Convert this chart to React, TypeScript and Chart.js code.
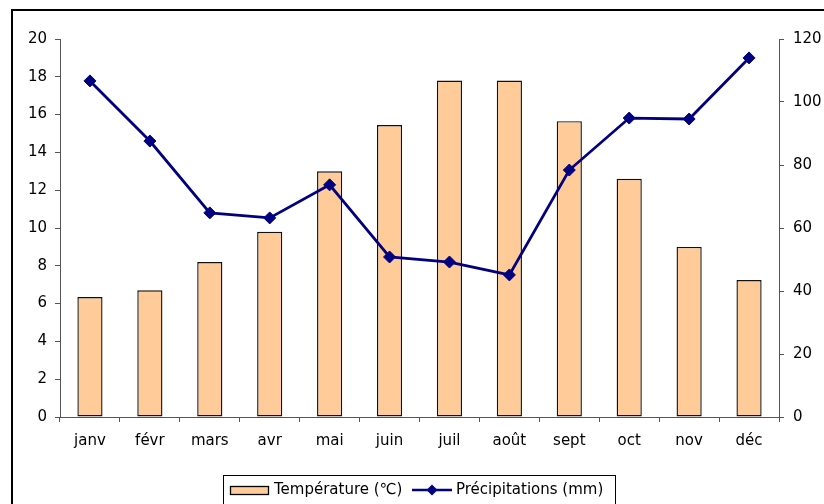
import React, { useEffect, useRef } from "react";
import { Chart, registerables } from "chart.js";

Chart.register(...registerables);

const months = ["janv", "févr", "mars", "avr", "mai", "juin", "juil", "août", "sept", "oct", "nov", "déc"];
const temperature = [6.35, 6.7, 8.2, 9.8, 13.0, 15.45, 17.8, 17.8, 15.65, 12.6, 9.0, 7.25];
const precipitation = [106.7, 87.6, 64.8, 63.2, 73.7, 50.8, 49.2, 45.1, 78.4, 94.9, 94.6, 114.0];
const tempLabel = "Température (℃)";
const precLabel = "Précipitations (mm)";

const FONT = "'DejaVu Sans', sans-serif";

const framePlugin = {
  id: "frameLegend",
  afterDraw(chart: any) {
    const ctx = chart.ctx;
    ctx.save();
    // outer frame
    ctx.strokeStyle = "#000";
    ctx.lineWidth = 2;
    ctx.strokeRect(12, 10, 900, 600);
    // legend box
    ctx.fillStyle = "#fff";
    ctx.fillRect(223, 475, 392, 40);
    ctx.lineWidth = 1;
    ctx.strokeRect(223.5, 475.5, 392, 40);
    const ds = chart.data.datasets;
    const bar = ds.find((d: any) => d.type === "bar");
    const line = ds.find((d: any) => d.type === "line");
    const cy = 490;
    // bar swatch
    ctx.fillStyle = bar.backgroundColor;
    ctx.fillRect(230, 486, 38, 9);
    ctx.strokeStyle = "#000";
    ctx.lineWidth = 1.3;
    ctx.strokeRect(230.5, 486.5, 38, 8);
    ctx.fillStyle = "#000";
    ctx.font = "15px " + FONT;
    ctx.textBaseline = "middle";
    ctx.textAlign = "left";
    ctx.fillText(bar.label, 274, cy);
    // line swatch
    ctx.strokeStyle = line.borderColor;
    ctx.lineWidth = 2.5;
    ctx.beginPath();
    ctx.moveTo(412, cy);
    ctx.lineTo(452, cy);
    ctx.stroke();
    ctx.fillStyle = line.borderColor;
    ctx.beginPath();
    ctx.moveTo(432 - 5.5, cy);
    ctx.lineTo(432, cy - 5.5);
    ctx.lineTo(432 + 5.5, cy);
    ctx.lineTo(432, cy + 5.5);
    ctx.closePath();
    ctx.fill();
    ctx.fillStyle = "#000";
    ctx.fillText(line.label, 456, cy);
    ctx.restore();
  },
};

export default function App() {
  const ref = useRef<HTMLCanvasElement>(null);
  useEffect(() => {
    if (!ref.current) return;
    const axisColor = "#555";
    const chart = new Chart(ref.current, {
      data: {
        labels: months,
        datasets: [
          {
            type: "bar",
            label: tempLabel,
            data: temperature,
            yAxisID: "y",
            backgroundColor: "#FFCC99",
            borderColor: "#111",
            borderWidth: 1.4,
            borderSkipped: false,
            barPercentage: 0.42,
            categoryPercentage: 1,
            order: 1,
          } as any,
          {
            type: "line",
            label: precLabel,
            data: precipitation,
            yAxisID: "y1",
            borderColor: "#000080",
            backgroundColor: "#000080",
            borderWidth: 2.8,
            pointStyle: "rectRot",
            pointRadius: 6,
            pointBorderWidth: 1,
            pointBackgroundColor: "#000080",
            pointBorderColor: "#000080",
            tension: 0,
            order: 0,
          } as any,
        ],
      },
      options: {
        responsive: false,
        animation: false,
        layout: { padding: { left: 0, right: 0, top: 39, bottom: 47 } },
        plugins: { legend: { display: false }, tooltip: { enabled: false } },
        scales: {
          x: {
            type: "category",
            offset: true,
            grid: { offset: true, drawOnChartArea: false, drawTicks: true, tickLength: 5, color: axisColor },
            border: { display: true, color: axisColor, width: 1 },
            ticks: { color: "#000", font: { family: FONT, size: 15 }, padding: 10, maxRotation: 0, autoSkip: false },
            afterFit: (s: any) => { s.height = 40; },
          },
          y: {
            type: "linear",
            position: "left",
            min: 0,
            max: 20,
            ticks: { stepSize: 2, color: "#000", font: { family: FONT, size: 15 }, padding: 8 },
            grid: { drawOnChartArea: false, drawTicks: true, tickLength: 5, color: axisColor },
            border: { display: true, color: axisColor, width: 1 },
            afterFit: (s: any) => { s.width = 60; },
          },
          y1: {
            type: "linear",
            position: "right",
            min: 0,
            max: 120,
            ticks: { stepSize: 20, color: "#000", font: { family: FONT, size: 15 }, padding: 9 },
            grid: { drawOnChartArea: false, drawTicks: true, tickLength: 5, color: axisColor },
            border: { display: true, color: axisColor, width: 1 },
            afterFit: (s: any) => { s.width = 45; },
          },
        },
      },
      plugins: [framePlugin],
    } as any);
    return () => chart.destroy();
  }, []);
  return (
    <div style={{ position: "fixed", left: 0, top: 0, width: 824, height: 504, background: "#fff" }}>
      <canvas ref={ref} width={824} height={504} style={{ display: "block" }} />
    </div>
  );
}
